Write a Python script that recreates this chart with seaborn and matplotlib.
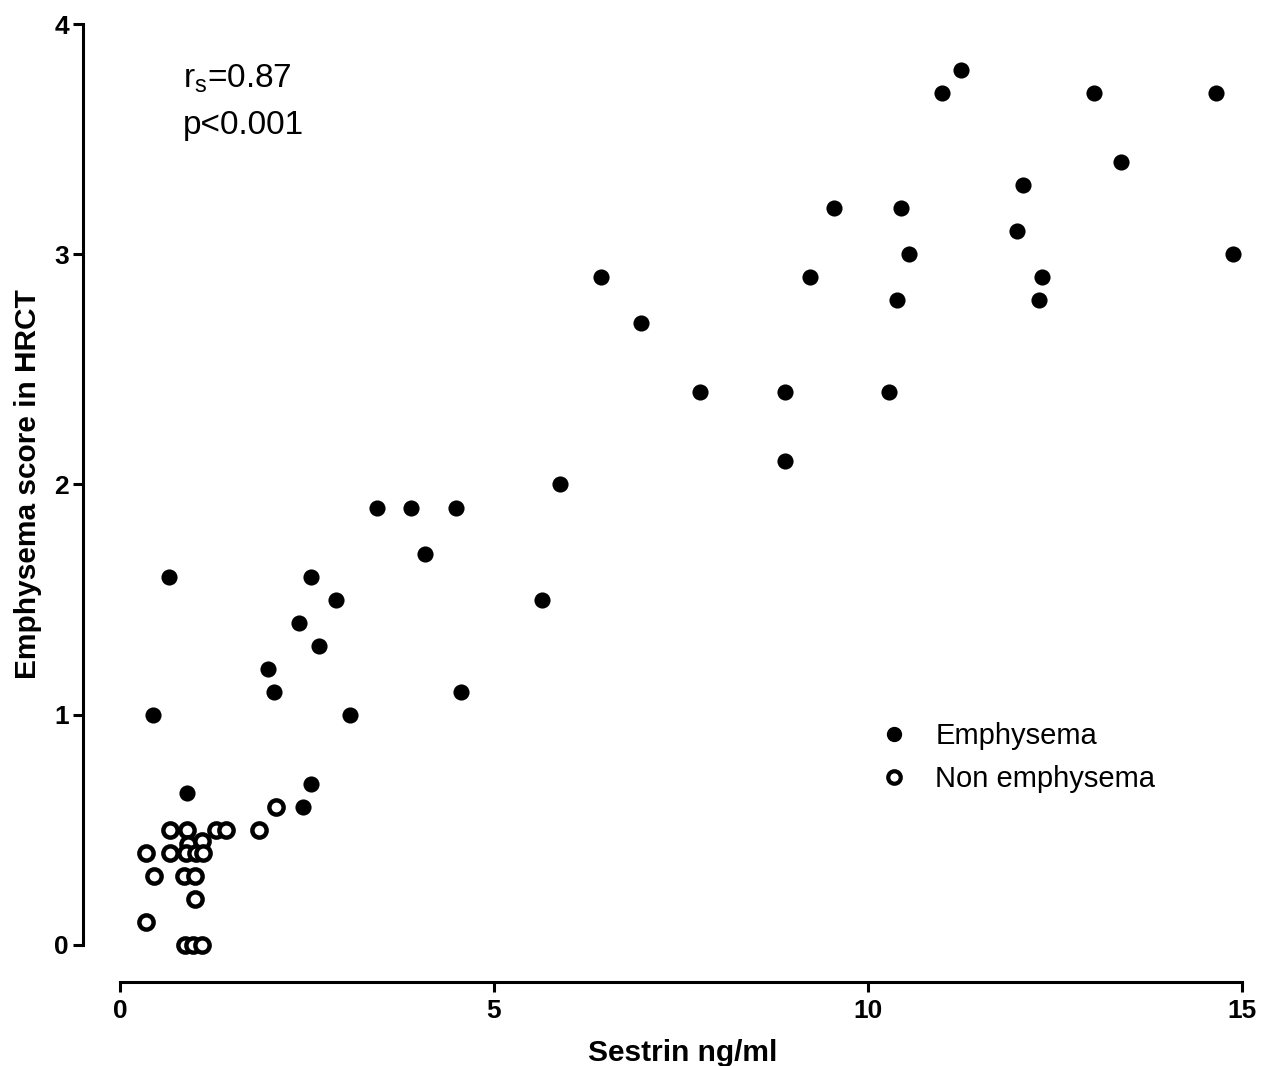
import matplotlib
matplotlib.use("Agg")
import matplotlib.pyplot as plt
import seaborn as sns
import pandas as pd
from matplotlib.lines import Line2D

# ---- data ----
emph_x = [0.66, 0.44, 0.89, 2.44, 2.56, 1.98, 2.06, 2.39, 2.55, 2.66, 2.89, 3.07,
          3.44, 3.89, 4.08, 4.49, 4.56, 5.64, 5.88, 6.43, 6.97, 7.75, 8.89, 8.89,
          9.22, 9.55, 10.28, 10.39, 10.44, 10.55, 10.99, 11.24, 11.99, 12.07,
          12.29, 12.33, 13.02, 13.38, 14.65, 14.88]
emph_y = [1.6, 1.0, 0.66, 0.6, 0.7, 1.2, 1.1, 1.4, 1.6, 1.3, 1.5, 1.0,
          1.9, 1.9, 1.7, 1.9, 1.1, 1.5, 2.0, 2.9, 2.7, 2.4, 2.4, 2.1,
          2.9, 3.2, 2.4, 2.8, 3.2, 3.0, 3.7, 3.8, 3.1, 3.3,
          2.8, 2.9, 3.7, 3.4, 3.7, 3.0]
non_x = [0.67, 0.90, 1.29, 1.42, 1.86, 2.09, 0.91, 1.09, 0.35, 0.67, 0.88, 1.02,
         1.11, 0.45, 0.85, 1.00, 1.00, 0.35, 0.87, 0.98, 1.10]
non_y = [0.5, 0.5, 0.5, 0.5, 0.5, 0.6, 0.44, 0.45, 0.4, 0.4, 0.4, 0.4,
         0.4, 0.3, 0.3, 0.3, 0.2, 0.1, 0.0, 0.0, 0.0]
x_ticks = [0, 5, 10, 15]
y_ticks = [0, 1, 2, 3, 4]
group_names = ["Emphysema", "Non emphysema"]
x_label = "Sestrin ng/ml"
y_label = "Emphysema score in HRCT"

df_e = pd.DataFrame({"x": emph_x, "y": emph_y})
df_n = pd.DataFrame({"x": non_x, "y": non_y})

sns.set_theme(style="white")
plt.rcParams["font.family"] = ["Liberation Sans", "DejaVu Sans"]
plt.rcParams["mathtext.fontset"] = "custom"
plt.rcParams["mathtext.rm"] = "Liberation Sans"
plt.rcParams["mathtext.it"] = "Liberation Sans"
plt.rcParams["text.color"] = "black"
plt.rcParams["axes.labelcolor"] = "black"
plt.rcParams["xtick.color"] = "black"
plt.rcParams["ytick.color"] = "black"

W, H = 1272, 1066
fig = plt.figure(figsize=(W / 100, H / 100), dpi=100)
ax = fig.add_axes([83 / W, (H - 982) / H, (1242 - 83) / W, (982 - 24) / H])

sns.scatterplot(data=df_e, x="x", y="y", ax=ax, color="black", marker="o",
                s=135, edgecolor="black", linewidth=0, clip_on=False, zorder=3)
sns.scatterplot(data=df_n, x="x", y="y", ax=ax, marker="o", s=105,
                facecolor="white", edgecolor="black", linewidth=3.2,
                clip_on=False, zorder=3)

ax.set_xlim(-0.4947, 15)
ax.set_ylim(-0.1607, 4)
ax.set_xticks(x_ticks)
ax.set_yticks(y_ticks)
ax.set_xticklabels([str(t) for t in x_ticks], fontsize=19, fontweight="bold")
ax.set_yticklabels([str(t) for t in y_ticks], fontsize=19, fontweight="bold")

for side in ["top", "right"]:
    ax.spines[side].set_visible(False)
ax.spines["left"].set_bounds(0, 4)
ax.spines["bottom"].set_bounds(0, 15)
for side in ["left", "bottom"]:
    ax.spines[side].set_linewidth(2.2)
    ax.spines[side].set_color("black")
ax.tick_params(axis="both", direction="out", length=7, width=2.2, colors="black",
               bottom=True, left=True)
ax.tick_params(axis="y", pad=3)
ax.tick_params(axis="x", pad=5)

ax.set_xlabel(x_label, fontsize=21.5, fontweight="bold")
ax.set_ylabel(y_label, fontsize=21.5, fontweight="bold")
ax.xaxis.set_label_coords(0.517, -0.060)
ax.yaxis.set_label_coords(-0.035, 0.52)

ax.text(0.84, 3.76, r"r$_\mathrm{s}$=0.87", fontsize=24, va="center", ha="left")
ax.text(0.84, 3.56, "p<0.001", fontsize=24, va="center", ha="left")

handles = [
    Line2D([], [], marker="o", linestyle="none", markersize=10,
           markerfacecolor="black", markeredgecolor="black"),
    Line2D([], [], marker="o", linestyle="none", markersize=9,
           markerfacecolor="white", markeredgecolor="black", markeredgewidth=3),
]
ax.legend(handles, group_names, loc="upper left", bbox_to_anchor=(0.675, 0.271),
          frameon=False, fontsize=21, handletextpad=0.4, labelspacing=0.5,
          borderaxespad=0, borderpad=0)

fig.savefig("out.png", dpi=100, facecolor="white")
